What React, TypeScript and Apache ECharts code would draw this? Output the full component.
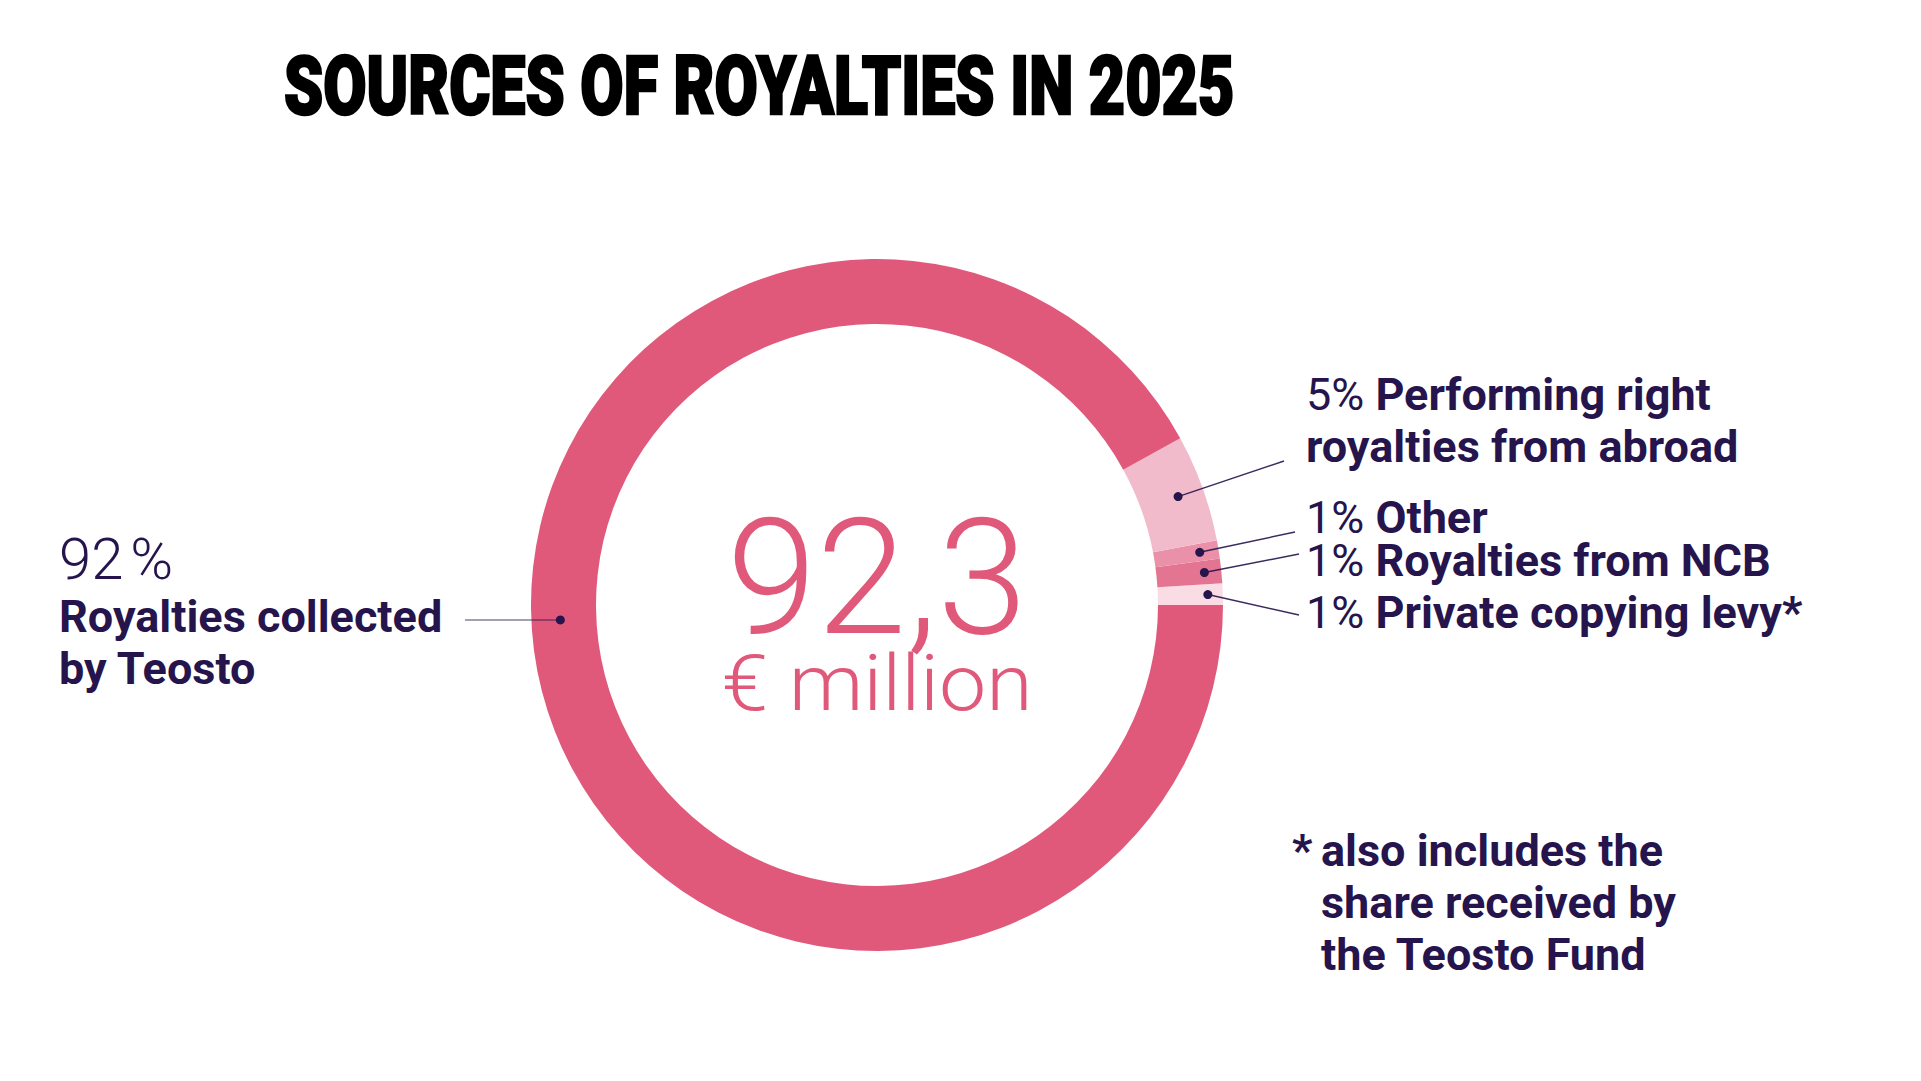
import React, { useEffect, useRef } from "react";
import * as echarts from "echarts";

// ---- data ----
const categories = [
  "Private copying levy*",
  "Royalties from NCB",
  "Other",
  "Performing right royalties from abroad",
  "Royalties collected by Teosto",
];
const values = [1.0, 1.15, 0.85, 5.0, 92.0];
const percentLabels = ["1%", "1%", "1%", "5%", "92%"];
const colors = ["#FADCE4", "#E47592", "#EA91A9", "#F2BBCB", "#E0597A"];
const totalLabel = "92,3";
const unitLabel = "€ million";
const titleText = "SOURCES OF ROYALTIES IN 2025";
const footnoteLines = ["also includes the", "share received by", "the Teosto Fund"];

// ---- layout ----
const CX = 877;
const CY = 605;
const R0 = 281;
const R1 = 346;
const NAVY = "#26144D";
const FONT = "Roboto";
const BOLD = `700 45px ${FONT}`;
const REG = `400 45px ${FONT}`;

export default function App() {
  const ref = useRef<HTMLDivElement>(null);

  useEffect(() => {
    if (!ref.current) return;
    const chart = echarts.init(ref.current, undefined, { renderer: "svg" });

    const total = values.reduce((a, b) => a + b, 0);
    const mids: number[] = [];
    let cum = 0;
    values.forEach((v) => {
      const a0 = (cum / total) * 360;
      cum += v;
      const a1 = (cum / total) * 360;
      mids.push((a0 + a1) / 2);
    });
    const pt = (deg: number, r: number) => {
      const t = (deg * Math.PI) / 180;
      return [CX + r * Math.cos(t), CY - r * Math.sin(t)];
    };

    const dotAngles = [mids[0], mids[1], mids[2], mids[3], 182.7];
    const dotRadii = [331, 329, 327, 320, 317];
    const lineEnds = [
      [1299, 615],
      [1299, 554],
      [1295, 532],
      [1284, 461],
      [465, 620],
    ];

    const graphics: any[] = [];

    dotAngles.forEach((a, i) => {
      const [x, y] = pt(a, dotRadii[i]);
      graphics.push({
        type: "line",
        shape: { x1: x, y1: y, x2: lineEnds[i][0], y2: lineEnds[i][1] },
        style: { stroke: NAVY, lineWidth: 1.5, opacity: i === 4 ? 0.55 : 0.9 },
        z: 10,
      });
      graphics.push({
        type: "circle",
        shape: { cx: x, cy: y, r: 4.5 },
        style: { fill: NAVY },
        z: 11,
      });
    });

    // title
    graphics.push({
      type: "text",
      x: 284,
      y: 86,
      scaleX: 0.765,
      style: {
        text: titleText,
        x: 0,
        y: 0,
        font: `900 82px ${FONT}`,
        fill: "#000000",
        stroke: "#000000",
        lineWidth: 2.5,
        textVerticalAlign: "middle",
      },
    });

    const rich = {
      p: { font: REG, fill: NAVY, lineHeight: 40 },
      b: { font: BOLD, fill: NAVY, lineHeight: 40 },
    };
    const rightX = 1306;
    const rightLabel = (text: string, y: number) => ({
      type: "text",
      style: {
        text,
        x: rightX,
        y,
        rich,
        textVerticalAlign: "middle",
      },
    });
    graphics.push(rightLabel(`{p|${percentLabels[3]} }{b|Performing right}`, 394));
    graphics.push(rightLabel(`{b|royalties from abroad}`, 446));
    graphics.push(rightLabel(`{p|${percentLabels[2]} }{b|${categories[2]}}`, 517));
    graphics.push(rightLabel(`{p|${percentLabels[1]} }{b|${categories[1]}}`, 560));
    graphics.push(rightLabel(`{p|${percentLabels[0]} }{b|${categories[0]}}`, 612));

    // left label
    graphics.push({
      type: "text",
      style: {
        text: `{n|${percentLabels[4].replace("%", "")}}{s|%}`,
        x: 59,
        y: 559,
        rich: {
          n: { font: `300 58px ${FONT}`, fill: NAVY },
          s: { font: `300 58px ${FONT}`, fill: NAVY, padding: [0, 0, 0, 7] },
        },
        textVerticalAlign: "middle",
      },
    });
    graphics.push({
      type: "text",
      style: {
        text: "Royalties collected",
        x: 59,
        y: 616,
        font: BOLD,
        fill: NAVY,
        textVerticalAlign: "middle",
      },
    });
    graphics.push({
      type: "text",
      style: {
        text: "by Teosto",
        x: 59,
        y: 668,
        font: BOLD,
        fill: NAVY,
        textVerticalAlign: "middle",
      },
    });

    // center
    graphics.push({
      type: "text",
      style: {
        text: totalLabel,
        x: CX,
        y: 578,
        font: `300 162px ${FONT}`,
        fill: "#E0597A",
        textAlign: "center",
        textVerticalAlign: "middle",
      },
    });
    graphics.push({
      type: "text",
      x: CX,
      y: 684,
      scaleX: 1.08,
      style: {
        text: unitLabel,
        x: 0,
        y: 0,
        font: `300 78px ${FONT}`,
        fill: "#E0597A",
        textAlign: "center",
        textVerticalAlign: "middle",
      },
    });

    // footnote
    graphics.push({
      type: "text",
      style: {
        text: "*",
        x: 1292,
        y: 850,
        font: BOLD,
        fill: NAVY,
        textVerticalAlign: "middle",
      },
    });
    footnoteLines.forEach((t, i) => {
      graphics.push({
        type: "text",
        style: {
          text: t,
          x: 1321,
          y: 850 + i * 52,
          font: BOLD,
          fill: NAVY,
          textVerticalAlign: "middle",
        },
      });
    });

    chart.setOption({
      animation: false,
      backgroundColor: "#ffffff",
      series: [
        {
          type: "pie",
          center: [CX, CY],
          radius: [R0, R1],
          startAngle: 0,
          clockwise: false,
          avoidLabelOverlap: false,
          label: { show: false },
          labelLine: { show: false },
          emphasis: { disabled: true },
          itemStyle: { borderWidth: 0 },
          data: categories.map((name, i) => ({
            name,
            value: values[i],
            itemStyle: { color: colors[i] },
          })),
        },
      ],
      graphic: graphics,
    });

    return () => chart.dispose();
  }, []);

  return (
    <div
      ref={ref}
      style={{ position: "fixed", left: 0, top: 0, width: 1921, height: 1081 }}
    />
  );
}
